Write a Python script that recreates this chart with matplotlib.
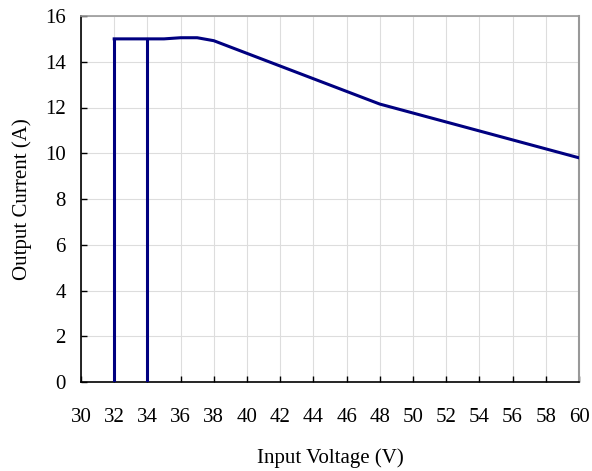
import matplotlib
matplotlib.use("Agg")
import matplotlib.pyplot as plt

voltage = [32, 34, 35, 36, 37, 38, 48, 60]
current = [15.0, 15.0, 15.0, 15.05, 15.05, 14.92, 12.15, 9.8]
uvlo_x = [32, 34]
uvlo_top = 15.0
xticks = list(range(30, 61, 2))
yticks = list(range(0, 17, 2))

plt.rcParams['font.family'] = ['Liberation Serif', 'DejaVu Serif']
fig = plt.figure(figsize=(5.92, 4.71), dpi=100)
ax = fig.add_axes([81/592, 1-382/471, 498/592, 366/471])

for gx in xticks:
    ax.axvline(gx, color='#dddddd', lw=0.8, zorder=0)
for gy in yticks:
    ax.axhline(gy, color='#dddddd', lw=0.8, zorder=0)

color = '#000080'
ax.plot(voltage, current, color=color, lw=2.2, solid_joinstyle='round', zorder=3)
for vx in uvlo_x:
    ax.plot([vx, vx], [0, uvlo_top], color=color, lw=2.2, zorder=3)

ax.set_xlim(30, 60)
ax.set_ylim(0, 16)
ax.set_xticks(xticks)
ax.set_yticks(yticks)
ax.tick_params(axis='x', direction='in', length=4, width=1, pad=19, labelsize=15)
ax.tick_params(axis='y', direction='in', length=4, width=1, pad=11, labelsize=15)
ax.spines['left'].set_color('black')
ax.spines['bottom'].set_color('black')
ax.spines['left'].set_linewidth(1.2)
ax.spines['bottom'].set_linewidth(1.2)
ax.spines['top'].set_color('#999999')
ax.spines['right'].set_color('#999999')
ax.spines['top'].set_linewidth(1.2)
ax.spines['right'].set_linewidth(1.5)
ax.set_xlabel('Input Voltage (V)', fontsize=15, labelpad=15)
ax.set_ylabel('Output Current (A)', fontsize=15, labelpad=9)

fig.savefig('out.png', dpi=100)
